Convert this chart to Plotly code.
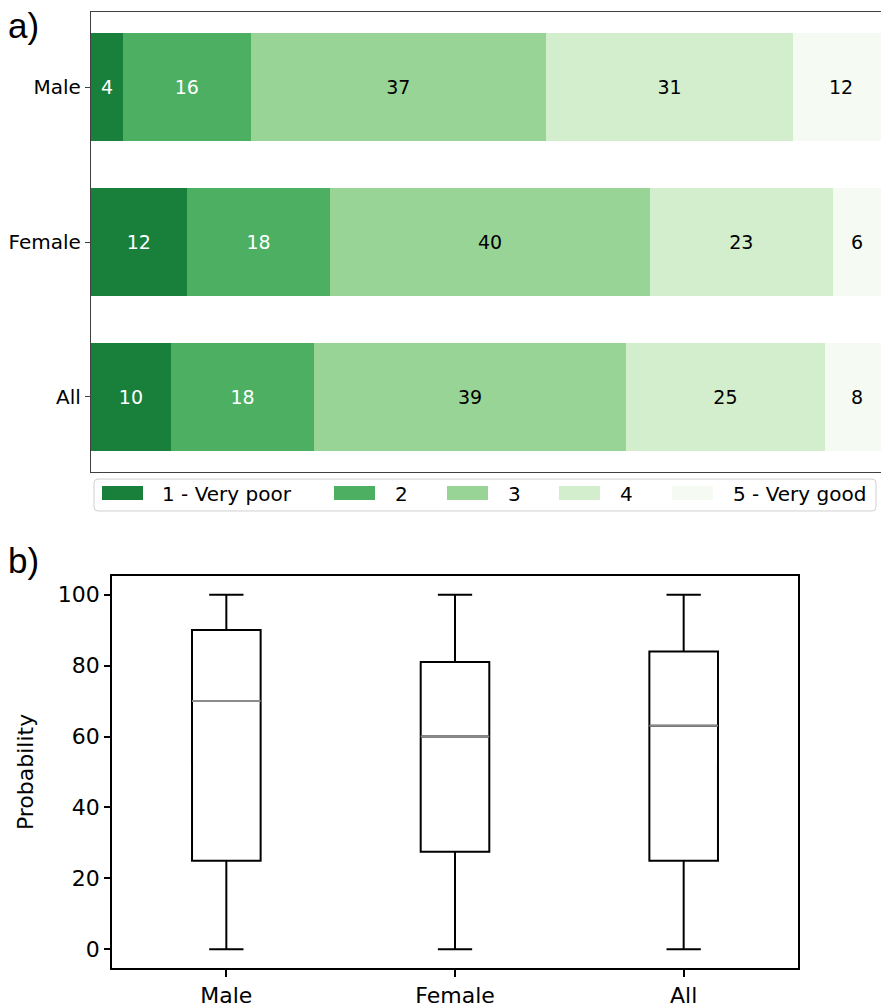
import plotly.graph_objects as go

# ---- data -------------------------------------------------------------
groups = ["Male", "Female", "All"]
ratings = ["1 - Very poor", "2", "3", "4", "5 - Very good"]
male_pct = [4, 16, 37, 31, 12]
female_pct = [12, 18, 40, 23, 6]
all_pct = [10, 18, 39, 25, 8]

box_groups = ["Male", "Female", "All"]
box_q1 = [25, 27.5, 25]
box_median = [70, 60, 63]
box_q3 = [90, 81, 84]
box_low = [0, 0, 0]
box_high = [100, 100, 100]
prob_ticks = [0, 20, 40, 60, 80, 100]

# ---- styling ----------------------------------------------------------
W, H = 881, 1008
greens = ["#19803b", "#4daf62", "#98d496", "#d3eecd", "#f5fbf3"]
text_colors = ["white", "white", "black", "black", "black"]
FONT = "DejaVu Sans"


def px(x):
    return x / W


def py(y):
    return 1 - y / H


fig = go.Figure()

# panel a) stacked horizontal bars
shares = [male_pct, female_pct, all_pct]
for i, rating in enumerate(ratings):
    vals = [s[i] for s in shares]
    fig.add_trace(go.Bar(
        y=groups, x=vals, orientation="h", name=rating,
        marker=dict(color=greens[i], line=dict(width=0)),
        width=0.7,
        text=vals, texttemplate="%{x}", textposition="inside",
        insidetextanchor="middle", textangle=0,
        textfont=dict(family=FONT, size=19, color=text_colors[i]),
        constraintext="none",
        xaxis="x", yaxis="y", showlegend=False,
    ))

# panel b) box plots from summary statistics
positions = list(range(1, len(box_groups) + 1))
box_w = 0.3
for k, g in enumerate(box_groups):
    fig.add_trace(go.Box(
        x=[positions[k]], q1=[box_q1[k]], median=[box_median[k]],
        q3=[box_q3[k]], lowerfence=[box_low[k]], upperfence=[box_high[k]],
        width=box_w, whiskerwidth=0.5, boxpoints=False,
        line=dict(color="black", width=2), fillcolor="rgba(0,0,0,0)",
        xaxis="x2", yaxis="y2", showlegend=False, name=g,
    ))
# grey median lines drawn over the boxes
for k, g in enumerate(box_groups):
    fig.add_trace(go.Scatter(
        x=[positions[k] - box_w / 2, positions[k] + box_w / 2],
        y=[box_median[k], box_median[k]], mode="lines",
        line=dict(color="#8a8a8a", width=2),
        xaxis="x2", yaxis="y2", showlegend=False, hoverinfo="skip",
    ))

# legend for panel a), drawn as swatches + labels
shapes = []
annotations = []
r = 4
lx0, lx1, ly0, ly1 = 94, 876, 480, 512
path = (f"M {px(lx0 + r)},{py(ly0)} L {px(lx1 - r)},{py(ly0)} "
        f"Q {px(lx1)},{py(ly0)} {px(lx1)},{py(ly0 + r)} "
        f"L {px(lx1)},{py(ly1 - r)} Q {px(lx1)},{py(ly1)} {px(lx1 - r)},{py(ly1)} "
        f"L {px(lx0 + r)},{py(ly1)} Q {px(lx0)},{py(ly1)} {px(lx0)},{py(ly1 - r)} "
        f"L {px(lx0)},{py(ly0 + r)} Q {px(lx0)},{py(ly0)} {px(lx0 + r)},{py(ly0)} Z")
shapes.append(dict(type="path", xref="paper", yref="paper", path=path,
                   line=dict(color="#d0d0d0", width=1), fillcolor="white"))
swatch_x = [102, 334, 447, 559, 672]
label_x = [160, 393, 506, 618, 731]
for i, rating in enumerate(ratings):
    shapes.append(dict(type="rect", xref="paper", yref="paper",
                       x0=px(swatch_x[i]), x1=px(swatch_x[i] + 41),
                       y0=py(501), y1=py(487),
                       fillcolor=greens[i], line=dict(width=0)))
    annotations.append(dict(xref="paper", yref="paper", x=px(label_x[i]),
                            y=py(495), text=rating, showarrow=False,
                            xanchor="left", yanchor="middle",
                            font=dict(family=FONT, size=20, color="black")))

# panel letters
annotations.append(dict(xref="paper", yref="paper", x=px(6), y=py(26),
                        text="a)", showarrow=False, xanchor="left",
                        yanchor="middle",
                        font=dict(family="Liberation Sans", size=35,
                                  color="black")))
annotations.append(dict(xref="paper", yref="paper", x=px(6), y=py(562),
                        text="b)", showarrow=False, xanchor="left",
                        yanchor="middle",
                        font=dict(family="Liberation Sans", size=35,
                                  color="black")))

fig.update_layout(
    width=W, height=H,
    margin=dict(l=0, r=0, t=0, b=0),
    paper_bgcolor="white", plot_bgcolor="white",
    barmode="stack",
    font=dict(family=FONT, color="black"),
    shapes=shapes, annotations=annotations,
    xaxis=dict(domain=[px(91), 1.0], range=[0, 99], showticklabels=False,
               ticks="", showgrid=False, zeroline=False, showline=True,
               mirror=True, linecolor="#404040", linewidth=1.3,
               anchor="y"),
    yaxis=dict(domain=[py(473), py(12)], type="category",
               categoryorder="array", categoryarray=groups[::-1],
               range=[-0.485, 2.485], ticks="outside", ticklen=5,
               tickcolor="#404040", tickwidth=1.2,
               tickfont=dict(family=FONT, size=20, color="black"),
               showgrid=False, zeroline=False, showline=True,
               linecolor="#404040", linewidth=1.3, anchor="x"),
    xaxis2=dict(domain=[px(112), px(798)], range=[0.5, 3.5],
                tickvals=positions, ticktext=box_groups,
                ticks="outside", ticklen=7, tickwidth=1.5, tickcolor="black",
                tickfont=dict(family=FONT, size=22, color="black"),
                showgrid=False, zeroline=False, showline=True, mirror=True,
                linecolor="black", linewidth=1.5, anchor="y2"),
    yaxis2=dict(domain=[py(970), py(577)], range=[-5.3, 105.3],
                tickvals=prob_ticks, ticks="outside", ticklen=6,
                tickwidth=1.5, tickcolor="black",
                tickfont=dict(family=FONT, size=22, color="black"),
                title=dict(text="Probability", standoff=18,
                           font=dict(family=FONT, size=22, color="black")),
                showgrid=False, zeroline=False, showline=True, mirror=True,
                linecolor="black", linewidth=1.5, anchor="x2"),
)

fig.write_html("out.html")
